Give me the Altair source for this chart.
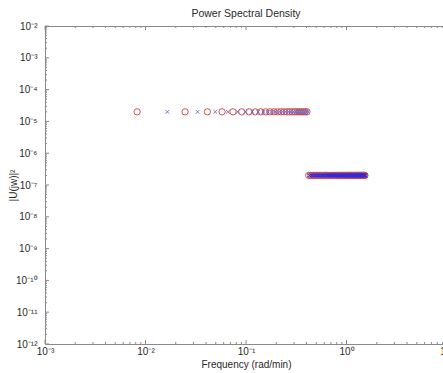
import altair as alt
import pandas as pd

# ---- data ----
upper_circle_f = [0.00825, 0.02475, 0.04125, 0.05775, 0.07425, 0.09075, 0.10725, 0.12375,
                  0.14025, 0.15675, 0.17325, 0.18975, 0.20625, 0.22275, 0.23925, 0.25575,
                  0.27225, 0.28875, 0.30525, 0.32175, 0.33825, 0.35475, 0.37125, 0.38775, 0.40425]
upper_x_f = [0.0165, 0.033, 0.0495, 0.066, 0.0825, 0.099, 0.1155, 0.132, 0.1485, 0.165,
             0.1815, 0.198, 0.2145, 0.231, 0.2475, 0.264, 0.2805, 0.297, 0.3135, 0.33,
             0.3465, 0.363, 0.3795, 0.396, 0.4125]
upper_psd = 2e-5

lower_circle_f = [0.421, 0.437, 0.454, 0.470, 0.487, 0.503, 0.520, 0.536, 0.553, 0.569,
                  0.586, 0.602, 0.619, 0.635, 0.652, 0.668, 0.685, 0.701, 0.718, 0.734,
                  0.751, 0.767, 0.784, 0.800, 0.817, 0.833, 0.850, 0.866, 0.883, 0.899,
                  0.916, 0.932, 0.949, 0.965, 0.982, 0.998, 1.015, 1.031, 1.048, 1.064,
                  1.081, 1.097, 1.114, 1.130, 1.147, 1.163, 1.180, 1.196, 1.213, 1.229,
                  1.246, 1.262, 1.279, 1.295, 1.312, 1.328, 1.345, 1.361, 1.378, 1.394,
                  1.411, 1.427, 1.444, 1.460, 1.477, 1.493, 1.510, 1.526]
lower_x_f = [0.429, 0.446, 0.462, 0.479, 0.495, 0.512, 0.528, 0.545, 0.561, 0.578,
             0.594, 0.611, 0.627, 0.644, 0.660, 0.677, 0.693, 0.710, 0.726, 0.743,
             0.759, 0.776, 0.792, 0.809, 0.825, 0.842, 0.858, 0.875, 0.891, 0.908,
             0.924, 0.941, 0.957, 0.974, 0.990, 1.007, 1.023, 1.040, 1.056, 1.073,
             1.089, 1.106, 1.122, 1.139, 1.155, 1.172, 1.188, 1.205, 1.221, 1.238,
             1.254, 1.271, 1.287, 1.304, 1.320, 1.337, 1.353, 1.370, 1.386, 1.403,
             1.419, 1.436, 1.452, 1.469, 1.485, 1.502, 1.518, 1.535]
lower_psd = 2e-7

x_decades = [1e-3, 1e-2, 1e-1, 1e0, 1e1]
y_decades = [10.0 ** e for e in range(-12, -1)]

# ---- layout / style ----
W, H = 402, 318
FONT = "Liberation Sans"
AX = "#8a8a8a"
TXT = "#2a2a2a"
SUP = "['\u207b\u00b9\u00b2','\u207b\u00b9\u00b9','\u207b\u00b9\u2070','\u207b\u2079','\u207b\u2078','\u207b\u2077','\u207b\u2076','\u207b\u2075','\u207b\u2074','\u207b\u00b3','\u207b\u00b2','\u207b\u00b9','\u2070','\u00b9']"
LBL = "'10' + " + SUP + "[round(log(datum.value)/LN10)+12]"

xs = alt.Scale(type="log", domain=[1e-3, 10], nice=False)
ys = alt.Scale(type="log", domain=[1e-12, 1e-2], nice=False)

pts = pd.DataFrame(
    [{"f": f, "p": upper_psd, "g": "uc"} for f in upper_circle_f]
    + [{"f": f, "p": upper_psd, "g": "ux"} for f in upper_x_f]
    + [{"f": f, "p": lower_psd, "g": "lc"} for f in lower_circle_f]
    + [{"f": f, "p": lower_psd, "g": "lx"} for f in lower_x_f]
)

xaxis = alt.Axis(values=x_decades, labelExpr=LBL, title="Frequency (rad/min)",
                 domain=False, ticks=False, tickSize=0, grid=False,
                 labelFont=FONT, labelFontSize=10, labelColor=TXT, labelPadding=2,
                 labelBaseline="top", labelFlush=False, labelOverlap=False,
                 titleFont=FONT, titleFontSize=10, titleFontWeight="normal", titleColor=TXT,
                 titleY=23, titleBaseline="alphabetic")
yaxis = alt.Axis(values=y_decades, labelExpr=LBL, title="|U(jw)|\u00b2",
                 domain=False, ticks=False, tickSize=0, grid=False,
                 labelFont=FONT, labelFontSize=10, labelColor=TXT, labelPadding=8,
                 labelFlush=False, labelOverlap=False,
                 titleFont=FONT, titleFontSize=10, titleFontWeight="normal", titleColor=TXT,
                 titleX=-32, titleY=H / 2, titleBaseline="middle", titleAngle=-90,
                 titleAlign="center")

XPATH = "M-1,-1L1,1M-1,1L1,-1"

def pts_layer(g, shape, color, size, sw):
    return alt.Chart(pts).transform_filter(alt.datum.g == g).mark_point(
        shape=shape, filled=False, color=color, size=size, strokeWidth=sw, opacity=1
    ).encode(
        x=alt.X("f:Q", scale=xs, axis=xaxis),
        y=alt.Y("p:Q", scale=ys, axis=yaxis),
    )

layers = [
    pts_layer("uc", "circle", "#c8403f", 40, 0.9),
    pts_layer("ux", XPATH, "#6a6ad0", 14, 0.9),
    pts_layer("lc", "circle", "#d04848", 40, 0.9),
    pts_layer("lx", XPATH, "#2a2ae8", 14, 1.0),
]

# inward MATLAB-style tick marks, positioned by the scales
x_minor = [m * d for d in x_decades[:-1] for m in range(2, 10)]
y_minor = [m * d for d in y_decades[:-1] for m in range(2, 10)]

def xticks(vals, length):
    df = pd.DataFrame({"t": vals})
    base = alt.Chart(df).mark_rule(color=AX, strokeWidth=1)
    b = base.encode(x=alt.X("t:Q", scale=xs, axis=xaxis), y=alt.value(H), y2=alt.value(H - length))
    t = base.encode(x=alt.X("t:Q", scale=xs, axis=xaxis), y=alt.value(0), y2=alt.value(length))
    return [b, t]

def yticks(vals, length):
    df = pd.DataFrame({"t": vals})
    base = alt.Chart(df).mark_rule(color=AX, strokeWidth=1)
    l = base.encode(y=alt.Y("t:Q", scale=ys, axis=yaxis), x=alt.value(0), x2=alt.value(length))
    r = base.encode(y=alt.Y("t:Q", scale=ys, axis=yaxis), x=alt.value(W), x2=alt.value(W - length))
    return [l, r]

tick_layers = xticks(x_decades, 4) + xticks(x_minor, 2) + yticks(y_decades, 4) + yticks(y_minor, 2)

chart = alt.layer(*layers, *tick_layers).properties(
    width=W, height=H,
    title=alt.TitleParams("Power Spectral Density", font=FONT, fontSize=10.5,
                          fontWeight="normal", color=TXT, anchor="middle",
                          baseline="alphabetic", offset=8, dy=14),
    padding={"left": 45, "top": 26, "right": -4, "bottom": 29},
    autosize="none",
    background="white",
).configure_view(stroke=AX, strokeWidth=1)

chart.save("out.html", embed_options={"renderer": "svg", "actions": False})
